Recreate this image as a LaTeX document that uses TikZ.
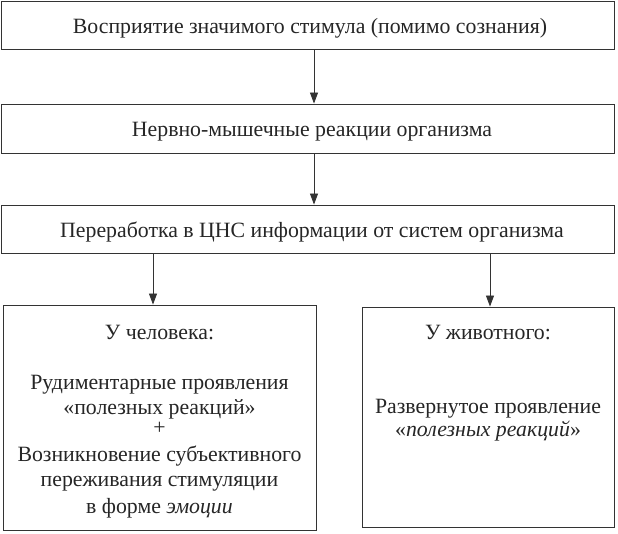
\documentclass[tikz,border=0pt]{standalone}
\usepackage{fontspec}
\setmainfont{Liberation Serif}
\usetikzlibrary{arrows.meta}
\begin{document}
\begin{tikzpicture}[x=1pt,y=-1pt,
  box/.style={draw=black!80, line width=0.9pt, fill=white, inner sep=0pt},
  txt/.style={font=\fontsize{21.8}{25}\selectfont, text=black!85, anchor=base, inner sep=0pt},
  arr/.style={draw=black!80, line width=0.9pt, -{Triangle[length=11pt,width=8pt]}}]
\fill[white] (0,0) rectangle (618,534);
\useasboundingbox (0,0) rectangle (618,534);
\node[box, minimum width=613pt, minimum height=48pt] (b1) at (308,25) {};
\node[txt] (t1) at (310,34) {Восприятие значимого стимула (помимо сознания)};
\node[box, minimum width=613pt, minimum height=49pt] (b2) at (308,128.5) {};
\node[txt] (t2) at (312,137) {Нервно-мышечные реакции организма};
\node[box, minimum width=613pt, minimum height=48pt] (b3) at (308,229) {};
\node[txt] (t3) at (312,238) {Переработка в ЦНС информации от систем организма};
\node[box, minimum width=313pt, minimum height=225pt] (b4) at (159.5,417.5) {};
\node[box, minimum width=252pt, minimum height=220pt] (b5) at (488,417) {};
\node[txt] (t41) at (159.5,339) {У человека:};
\node[txt] (t42) at (159.5,389) {Рудиментарные проявления};
\node[txt] (t43) at (159.5,414) {«полезных реакций»};
\node[txt] (t44) at (159.5,434) {+};
\node[txt] (t45) at (159.5,461) {Возникновение субъективного};
\node[txt] (t46) at (159.5,486) {переживания стимуляции};
\node[txt] (t47) at (159.5,513) {в форме \textit{эмоции}};
\node[txt] (t51) at (488,339) {У животного:};
\node[txt] (t52) at (488,413) {Развернутое проявление};
\node[txt] (t53) at (488,436) {«\textit{полезных реакций}»};
\draw[arr] (b1.south -| 314,0) -- (b2.north -| 314,0);
\draw[arr] (b2.south -| 314,0) -- (b3.north -| 314,0);
\draw[arr] (b3.south -| 153,0) -- (b4.north -| 153,0);
\draw[arr] (b3.south -| 490,0) -- (b5.north -| 490,0);
\end{tikzpicture}
\end{document}
